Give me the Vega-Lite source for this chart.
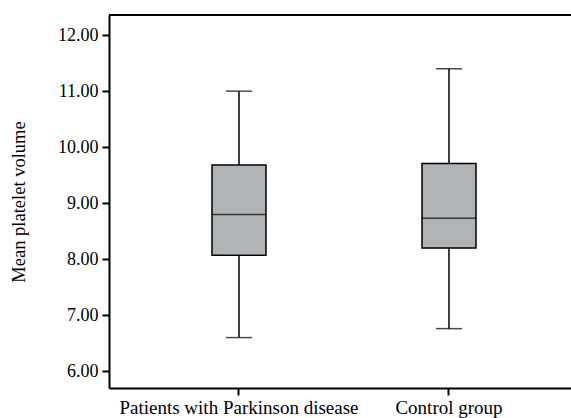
{
  "$schema": "https://vega.github.io/schema/vega-lite/v6.json",
  "autosize": "none",
  "padding": {"left": 109, "top": 15, "right": 0, "bottom": 30},
  "width": 462,
  "height": 373,
  "background": "white",
  "config": {
    "view": {"stroke": null},
    "font": "Liberation Serif",
    "axis": {"domainColor": "black", "domainWidth": 2, "tickColor": "black", "tickWidth": 2, "tickSize": 7, "labelColor": "black", "titleColor": "black", "labelFont": "Liberation Serif", "titleFont": "Liberation Serif", "grid": false, "labelLimit": 0}
  },
  "data": {
    "values": [
      {"group": "Patients with Parkinson disease", "lower": 6.6, "q1": 8.07, "median": 8.8, "q3": 9.68, "upper": 11.0},
      {"group": "Control group", "lower": 6.76, "q1": 8.2, "median": 8.73, "q3": 9.71, "upper": 11.4}
    ]
  },
  "layer": [
    {
      "mark": {"type": "rule", "color": "black", "strokeWidth": 1.5},
      "encoding": {
        "x": {
          "field": "group", "type": "nominal", "sort": null,
          "scale": {"paddingInner": 0, "paddingOuter": 0.1, "align": 0.595},
          "axis": {"title": null, "labelAngle": 0, "labelFontSize": 19, "labelPadding": 3, "labelLimit": 0}
        },
        "y": {"field": "lower", "type": "quantitative", "scale": {"domain": [5.7, 12.36], "nice": false, "zero": false},
          "axis": {"title": "Mean platelet volume", "titleFontSize": 18.5, "titleFontWeight": "normal", "titlePadding": 29, "labelFontSize": 18, "labelPadding": 4, "values": [6, 7, 8, 9, 10, 11, 12], "format": ".2f"}},
        "y2": {"field": "upper"}
      }
    },
    {
      "mark": {"type": "bar", "size": 54, "fill": "#b1b4b6", "stroke": "black", "strokeWidth": 1.5},
      "encoding": {
        "x": {"field": "group", "type": "nominal", "sort": null},
        "y": {"field": "q1", "type": "quantitative"},
        "y2": {"field": "q3"}
      }
    },
    {
      "mark": {"type": "tick", "size": 54, "color": "black", "thickness": 1.5, "orient": "horizontal"},
      "encoding": {
        "x": {"field": "group", "type": "nominal", "sort": null},
        "y": {"field": "median", "type": "quantitative"}
      }
    },
    {
      "mark": {"type": "tick", "size": 26, "color": "black", "thickness": 1.5, "orient": "horizontal"},
      "encoding": {
        "x": {"field": "group", "type": "nominal", "sort": null},
        "y": {"field": "upper", "type": "quantitative"}
      }
    },
    {
      "mark": {"type": "tick", "size": 26, "color": "black", "thickness": 1.5, "orient": "horizontal"},
      "encoding": {
        "x": {"field": "group", "type": "nominal", "sort": null},
        "y": {"field": "lower", "type": "quantitative"}
      }
    },
    {
      "mark": {"type": "rule", "color": "black", "strokeWidth": 2},
      "encoding": {
        "y": {"datum": 12.36, "type": "quantitative"}
      }
    }
  ]
}
